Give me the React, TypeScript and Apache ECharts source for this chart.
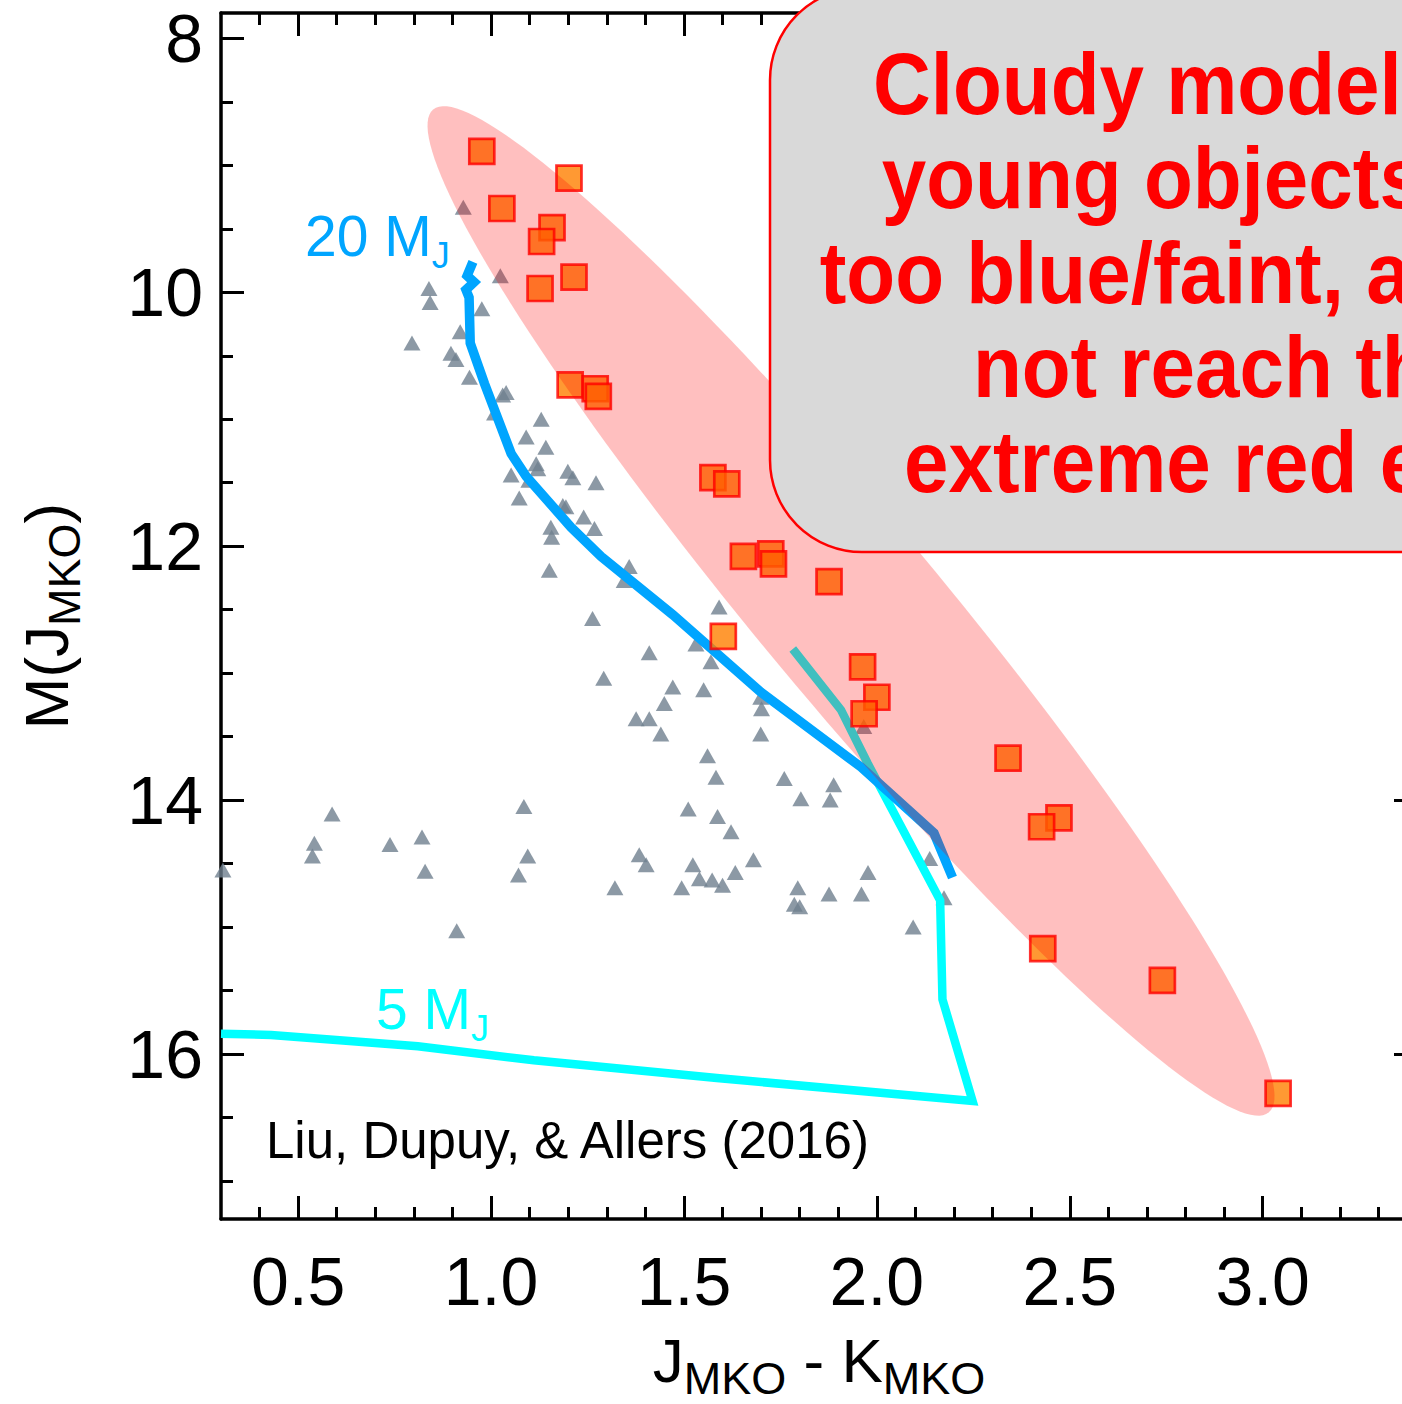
import React, { useEffect, useRef } from "react";
import * as echarts from "echarts";

// ---------- data ----------
const xMajorTicks = [0.5, 1.0, 1.5, 2.0, 2.5, 3.0];
const xMinorTicks = [
  0.4, 0.5, 0.6, 0.7, 0.8, 0.9, 1.0, 1.1, 1.2, 1.3, 1.4, 1.5, 1.6, 1.7, 1.8, 1.9,
  2.0, 2.1, 2.2, 2.3, 2.4, 2.5, 2.6, 2.7, 2.8, 2.9, 3.0, 3.1, 3.2, 3.3,
];
const yMajorTicks = [8, 10, 12, 14, 16];
const yMinorTicks = [
  8, 8.5, 9, 9.5, 10, 10.5, 11, 11.5, 12, 12.5, 13, 13.5, 14, 14.5, 15, 15.5, 16, 16.5, 17,
];

// young objects (orange squares): [J-K, M(J)]
const youngObjects: [number, number][] = [
  [0.976, 8.89], [1.202, 9.1], [1.028, 9.34], [1.158, 9.49], [1.131, 9.6],
  [1.215, 9.88], [1.127, 9.97], [1.205, 10.73], [1.27, 10.76], [1.278, 10.82],
  [1.575, 11.46], [1.611, 11.51], [1.654, 12.08], [1.725, 12.06], [1.732, 12.14],
  [1.876, 12.28], [1.602, 12.71], [1.963, 12.95], [2.0, 13.19], [1.967, 13.32],
  [2.34, 13.67], [2.472, 14.14], [2.427, 14.21], [2.43, 15.17], [2.74, 15.42],
  [3.04, 16.31],
];

// field objects (grey triangles)
const fieldObjects: [number, number][] = [
  [0.928, 9.33], [1.024, 9.87], [0.839, 9.97], [0.842, 10.08], [0.976, 10.13],
  [0.92, 10.31], [0.795, 10.4], [0.896, 10.48], [0.909, 10.53], [0.944, 10.67],
  [1.03, 10.81], [1.039, 10.79], [1.009, 10.95], [1.13, 11.0], [1.091, 11.14],
  [1.142, 11.22], [1.117, 11.35], [1.121, 11.39], [1.052, 11.44], [1.199, 11.41],
  [1.212, 11.46], [1.098, 11.48], [1.272, 11.5], [1.073, 11.62], [1.186, 11.68],
  [1.194, 11.69], [1.24, 11.77], [1.155, 11.85], [1.157, 11.93], [1.268, 11.86],
  [1.151, 12.19], [1.263, 12.57], [1.358, 12.16], [1.345, 12.27], [1.591, 12.48],
  [1.41, 12.84], [1.531, 12.77], [1.57, 12.91], [1.292, 13.04], [1.471, 13.11],
  [1.551, 13.13], [1.449, 13.24], [1.376, 13.36], [1.41, 13.36], [1.44, 13.48],
  [1.699, 13.19], [1.701, 13.28], [1.699, 13.48], [1.561, 13.65], [1.583, 13.82],
  [1.76, 13.83], [1.888, 13.88], [1.879, 14.0], [1.803, 13.99], [1.511, 14.07],
  [1.587, 14.13], [1.622, 14.25], [1.384, 14.43], [1.402, 14.51], [1.68, 14.47],
  [1.523, 14.51], [1.633, 14.57], [1.54, 14.62], [1.573, 14.63], [1.6, 14.67],
  [1.321, 14.69], [1.494, 14.69], [1.795, 14.69], [1.977, 14.57], [1.876, 14.74],
  [1.96, 14.74], [1.786, 14.82], [1.8, 14.84], [2.137, 14.46], [2.174, 14.77],
  [2.094, 15.0], [1.966, 13.42], [0.305, 14.55], [0.542, 14.34], [0.537, 14.44],
  [0.588, 14.11], [0.738, 14.35], [0.821, 14.29], [0.829, 14.56], [0.911, 15.03],
  [1.085, 14.05], [1.095, 14.44], [1.071, 14.59],
];

// 20 M_J cloudy model track
const track20MJ: [number, number][] = [
  [0.953, 9.76], [0.938, 9.87], [0.956, 9.92], [0.935, 9.98], [0.943, 10.04],
  [0.946, 10.4], [0.983, 10.72], [1.052, 11.27], [1.091, 11.45], [1.207, 11.85],
  [1.285, 12.08], [1.471, 12.54], [1.699, 13.15], [1.959, 13.74], [2.148, 14.26],
  [2.196, 14.61],
];

// 5 M_J cloudy model track
const track5MJ: [number, number][] = [
  [0.3, 15.84], [0.43, 15.85], [0.81, 15.94], [1.111, 16.05], [1.585, 16.19],
  [2.248, 16.37], [2.17, 15.57], [2.164, 14.79], [1.976, 13.71], [1.907, 13.29],
  [1.782, 12.81],
];

// highlighted region: ends of the major axis of the ellipse (data units)
const ellipseEnds: [number, number][] = [
  [0.85, 8.56],
  [3.016, 16.46],
];

const boxLines = [
  "Cloudy models for",
  "young objects are",
  "too blue/faint, and do",
  "not reach the",
  "extreme red end.",
];

// ---------- styling ----------
const FONT = "Liberation Sans";
const X_MIN = 0.3;
const X_MAX = 3.4;
const Y_MIN = 7.8;
const Y_MAX = 17.3;
const ELLIPSE_HALF_WIDTH = 90;

const axisLineStyle = { color: "#000", width: 3.5 };
const tickStyle = { color: "#000", width: 3 };

const titleRich = {
  m: { fontSize: 62, lineHeight: 62, verticalAlign: "top", fontFamily: FONT, color: "#000" },
  s: { fontSize: 45, lineHeight: 72, verticalAlign: "bottom", fontFamily: FONT, color: "#000" },
};

function xAxisDef(position: "top" | "bottom", major: boolean, withLabels: boolean) {
  return {
    type: "value",
    position,
    min: X_MIN,
    max: X_MAX,
    axisLine: { show: major, onZero: false, lineStyle: axisLineStyle },
    axisTick: {
      show: true,
      inside: true,
      length: major ? 23 : 12,
      lineStyle: tickStyle,
      customValues: major ? xMajorTicks : xMinorTicks,
    },
    axisLabel: withLabels
      ? {
          show: true,
          customValues: xMajorTicks,
          formatter: (v: number) => v.toFixed(1),
          fontSize: 68,
          fontFamily: FONT,
          color: "#000",
          margin: 28,
        }
      : { show: false },
    splitLine: { show: false },
    ...(withLabels
      ? {
          name: "{m|J}{s|MKO}{m| - K}{s|MKO}",
          nameLocation: "middle",
          nameGap: 110,
          nameTextStyle: { rich: titleRich },
        }
      : {}),
  };
}

function yAxisDef(position: "left" | "right", major: boolean, withLabels: boolean) {
  return {
    type: "value",
    position,
    inverse: true,
    min: Y_MIN,
    max: Y_MAX,
    axisLine: { show: major, onZero: false, lineStyle: axisLineStyle },
    axisTick: {
      show: true,
      inside: true,
      length: major ? 23 : 12,
      lineStyle: tickStyle,
      customValues: major ? yMajorTicks : yMinorTicks,
    },
    axisLabel: withLabels
      ? {
          show: true,
          customValues: yMajorTicks,
          formatter: (v: number) => String(v),
          fontSize: 68,
          fontFamily: FONT,
          color: "#000",
          margin: 18,
        }
      : { show: false },
    splitLine: { show: false },
    ...(withLabels
      ? {
          name: "{m|M(J}{s|MKO}{m|)}",
          nameLocation: "middle",
          nameGap: 134,
          nameTextStyle: { rich: titleRich },
        }
      : {}),
  };
}

function massLabel(text: string, color: string) {
  return {
    text: `{m|${text}}{s|J}`,
    rich: {
      m: { fontSize: 57, lineHeight: 57, verticalAlign: "top", fontFamily: FONT, fill: color },
      s: { fontSize: 36, lineHeight: 66, verticalAlign: "bottom", fontFamily: FONT, fill: color },
    },
    verticalAlign: "top",
    align: "left",
  };
}

export default function App() {
  const ref = useRef<HTMLDivElement>(null);

  useEffect(() => {
    if (!ref.current) return;
    document.body.style.margin = "0";
    const chart = echarts.init(ref.current, null, { renderer: "svg" });

    const option: any = {
      animation: false,
      backgroundColor: "#fff",
      grid: {
        left: 221,
        top: 13,
        width: 1196,
        height: 1206,
        containLabel: false,
        outerBoundsMode: "none",
      },
      xAxis: [
        xAxisDef("bottom", true, true),
        xAxisDef("bottom", false, false),
        xAxisDef("top", true, false),
        xAxisDef("top", false, false),
      ],
      yAxis: [
        yAxisDef("left", true, true),
        yAxisDef("left", false, false),
        yAxisDef("right", true, false),
        yAxisDef("right", false, false),
      ],
      series: [
        {
          name: "field",
          type: "scatter",
          xAxisIndex: 0,
          yAxisIndex: 0,
          data: fieldObjects,
          symbol: "triangle",
          symbolSize: [17, 15],
          itemStyle: { color: "#6f7f8f" },
          z: 2,
        },
        {
          name: "5 MJ",
          type: "line",
          xAxisIndex: 0,
          yAxisIndex: 0,
          data: track5MJ,
          showSymbol: false,
          symbol: "none",
          lineStyle: { color: "#00ffff", width: 8.5, join: "miter", cap: "butt" },
          z: 3,
        },
        {
          name: "20 MJ",
          type: "line",
          xAxisIndex: 0,
          yAxisIndex: 0,
          data: track20MJ,
          showSymbol: false,
          symbol: "none",
          lineStyle: { color: "#00a5ff", width: 9.5, join: "miter", cap: "butt" },
          z: 4,
        },
        {
          name: "young",
          type: "scatter",
          xAxisIndex: 0,
          yAxisIndex: 0,
          data: youngObjects,
          symbol: "rect",
          symbolSize: 25,
          itemStyle: { color: "#ff7f00", borderColor: "#ff0000", borderWidth: 2.7 },
          z: 5,
        },
        {
          name: "region",
          type: "custom",
          xAxisIndex: 0,
          yAxisIndex: 0,
          clip: true,
          z: 10,
          data: [ellipseEnds[0]],
          renderItem: (params: any, api: any) => {
            const p1 = api.coord(ellipseEnds[0]);
            const p2 = api.coord(ellipseEnds[1]);
            const cx = (p1[0] + p2[0]) / 2;
            const cy = (p1[1] + p2[1]) / 2;
            const a = Math.hypot(p2[0] - p1[0], p2[1] - p1[1]) / 2;
            const b = ELLIPSE_HALF_WIDTH;
            const th = Math.atan2(p2[1] - p1[1], p2[0] - p1[0]);
            const pts: number[][] = [];
            const n = 180;
            for (let i = 0; i < n; i++) {
              const t = (i / n) * Math.PI * 2;
              const ex = a * Math.cos(t);
              const ey = b * Math.sin(t);
              pts.push([
                cx + ex * Math.cos(th) - ey * Math.sin(th),
                cy + ex * Math.sin(th) + ey * Math.cos(th),
              ]);
            }
            return {
              type: "polygon",
              shape: { points: pts },
              style: { fill: "rgba(255,0,0,0.25)", stroke: "none" },
              silent: true,
            };
          },
        },
      ],
      graphic: [
        { type: "text", z: 50, x: 305, y: 207, style: massLabel("20 M", "#00a5ff") },
        { type: "text", z: 50, x: 376, y: 980, style: massLabel("5 M", "#00ffff") },
        {
          type: "text",
          z: 50,
          x: 266,
          y: 1140,
          style: {
            text: "Liu, Dupuy, & Allers (2016)",
            fontSize: 51,
            fontFamily: FONT,
            fill: "#000",
            align: "left",
            verticalAlign: "middle",
          },
        },
        {
          type: "rect",
          z: 100,
          shape: { x: 770, y: -12, width: 902, height: 564, r: 92 },
          style: { fill: "#d9d9d9", stroke: "#ff0000", lineWidth: 2.5 },
        },
        {
          type: "text",
          z: 101,
          x: 1224,
          y: 273,
          scaleY: 1.08,
          style: {
            text: boxLines.join("\n"),
            fontSize: 80,
            fontWeight: "bold",
            fontFamily: FONT,
            lineHeight: 87.5,
            fill: "#ff0000",
            align: "center",
            verticalAlign: "middle",
          },
        },
      ],
    };

    chart.setOption(option);
    return () => {
      chart.dispose();
    };
  }, []);

  return (
    <div
      ref={ref}
      style={{ position: "fixed", left: 0, top: 0, width: 1440, height: 1404, background: "#fff" }}
    />
  );
}
